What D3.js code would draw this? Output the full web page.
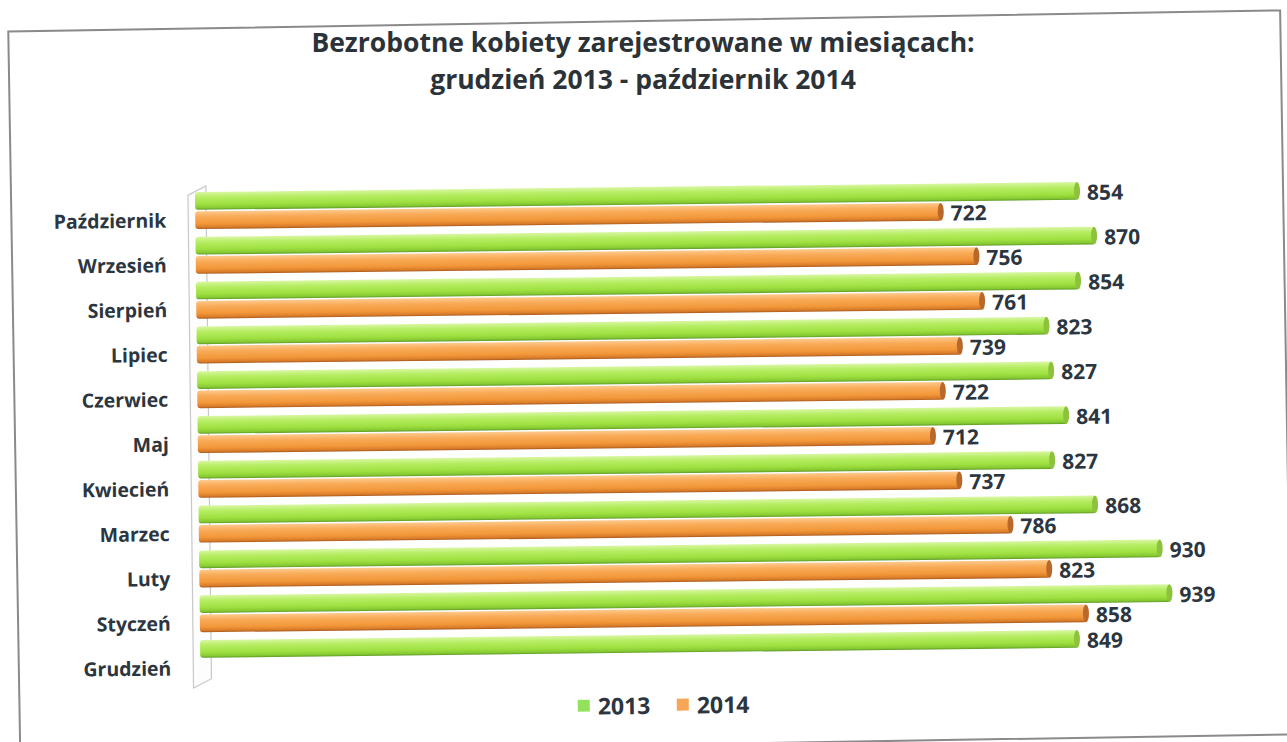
<!DOCTYPE html>
<html>
<head>
<meta charset="utf-8">
<script src="https://cdn.jsdelivr.net/npm/d3@7"></script>
<style>
  body { margin: 0; background: #fff; }
  text { font-family: "Open Sans", sans-serif; font-weight: bold; }
</style>
</head>
<body>
<svg id="chart"></svg>
<script>
// months from top to bottom as in the picture
let months = ["Październik", "Wrzesień", "Sierpień", "Lipiec", "Czerwiec", "Maj",
              "Kwiecień", "Marzec", "Luty", "Styczeń", "Grudzień"];
let series = ["2013", "2014"];
let values2013 = [854, 870, 854, 823, 827, 841, 827, 868, 930, 939, 849];
let values2014 = [722, 756, 761, 739, 722, 712, 737, 786, 823, 858, null];
let titleLines = ["Bezrobotne kobiety zarejestrowane w miesiącach:",
                  "grudzień 2013 - październik 2014"];

let w = 1287, h = 742;
let svg = d3.select("#chart").attr("width", w).attr("height", h);

let defs = svg.append("defs");
function cylGradient(id, stops) {
    let g = defs.append("linearGradient").attr("id", id)
        .attr("x1", 0).attr("y1", 0).attr("x2", 0).attr("y2", 1);
    stops.forEach(s => g.append("stop").attr("offset", s[0]).attr("stop-color", s[1]));
}
cylGradient("g2013", [[0, "#d9f7a4"], [0.3, "#b6ed62"], [0.7, "#9ee040"], [0.9, "#86c932"], [1, "#5f9a26"]]);
cylGradient("g2014", [[0, "#fdca8e"], [0.3, "#f9ab58"], [0.7, "#f29739"], [0.9, "#d97d2a"], [1, "#a9581c"]]);
let capColor = {"2013": "#8cc23c", "2014": "#b8682a"};

// outer frame (scanned page is tilted)
svg.append("g")
    .attr("transform", "rotate(-0.95, 644, 371)")
    .append("rect")
    .attr("x", 14).attr("y", 21)
    .attr("width", 1272).attr("height", 724)
    .attr("fill", "none").attr("stroke", "#8a8a8a").attr("stroke-width", 2);

// title
svg.selectAll(".title")
    .data(titleLines)
    .enter().append("text")
    .attr("class", "title")
    .attr("x", 643)
    .attr("y", (d, i) => 52 + i * 37)
    .attr("text-anchor", "middle")
    .attr("font-size", 26.5)
    .attr("fill", "#2b3238")
    .text(d => d);

let g = svg.append("g").attr("transform", "rotate(-0.65, 643, 371)");

let x = d3.scaleLinear().domain([0, 1000]).range([197, 1231]);
let y = d3.scaleBand().domain(months).range([187, 187 + 11 * 44.8]);
let ySub = d3.scaleBand().domain(series).range([0, 37]).paddingInner(0.08);

// 3d wall on the left
let wallTop = y.range()[0] + 3, wallBot = y.range()[1] + 3;
g.append("path")
    .attr("d", `M190,${wallBot} L190,${wallTop} L208,${wallTop - 9} L208,${wallBot - 9} Z`)
    .attr("fill", "#fdfdfd").attr("stroke", "#c8c8c8").attr("stroke-width", 1.2);

// category labels
g.selectAll(".cat")
    .data(months)
    .enter().append("text")
    .attr("class", "cat")
    .attr("x", 168)
    .attr("y", d => y(d) + ySub("2014") + ySub.bandwidth() / 2 + 7)
    .attr("text-anchor", "end")
    .attr("font-size", 19.5)
    .attr("fill", "#2c3640")
    .text(d => d);

let rows = [];
months.forEach((m, i) => {
    rows.push({month: m, s: "2013", v: values2013[i]});
    if (values2014[i] != null) rows.push({month: m, s: "2014", v: values2014[i]});
});

let bars = g.selectAll(".bar")
    .data(rows)
    .enter().append("g")
    .attr("class", "bar");

bars.append("rect")
    .attr("x", x(0))
    .attr("y", d => y(d.month) + ySub(d.s))
    .attr("width", d => x(d.v) - x(0))
    .attr("height", ySub.bandwidth())
    .attr("rx", 3)
    .attr("fill", d => "url(#g" + d.s + ")");

bars.append("ellipse")
    .attr("cx", d => x(d.v) - 1)
    .attr("cy", d => y(d.month) + ySub(d.s) + ySub.bandwidth() / 2)
    .attr("rx", 3)
    .attr("ry", ySub.bandwidth() / 2)
    .attr("fill", d => capColor[d.s]);

bars.append("text")
    .attr("x", d => x(d.v) + 9)
    .attr("y", d => y(d.month) + ySub(d.s) + ySub.bandwidth() / 2 + 9)
    .attr("font-size", 21)
    .attr("fill", "#2c3640")
    .text(d => d.v);

// legend
let legend = g.append("g").attr("transform", "translate(574, 699)");
let legendColor = {"2013": "#93e25e", "2014": "#f7a656"};
series.forEach((s, i) => {
    let lg = legend.append("g").attr("transform", `translate(${i * 99}, 0)`);
    lg.append("rect").attr("width", 12).attr("height", 12).attr("fill", legendColor[s]);
    lg.append("text").attr("x", 20).attr("y", 15)
        .attr("font-size", 23).attr("fill", "#2c3640").text(s);
});
</script>
</body>
</html>
